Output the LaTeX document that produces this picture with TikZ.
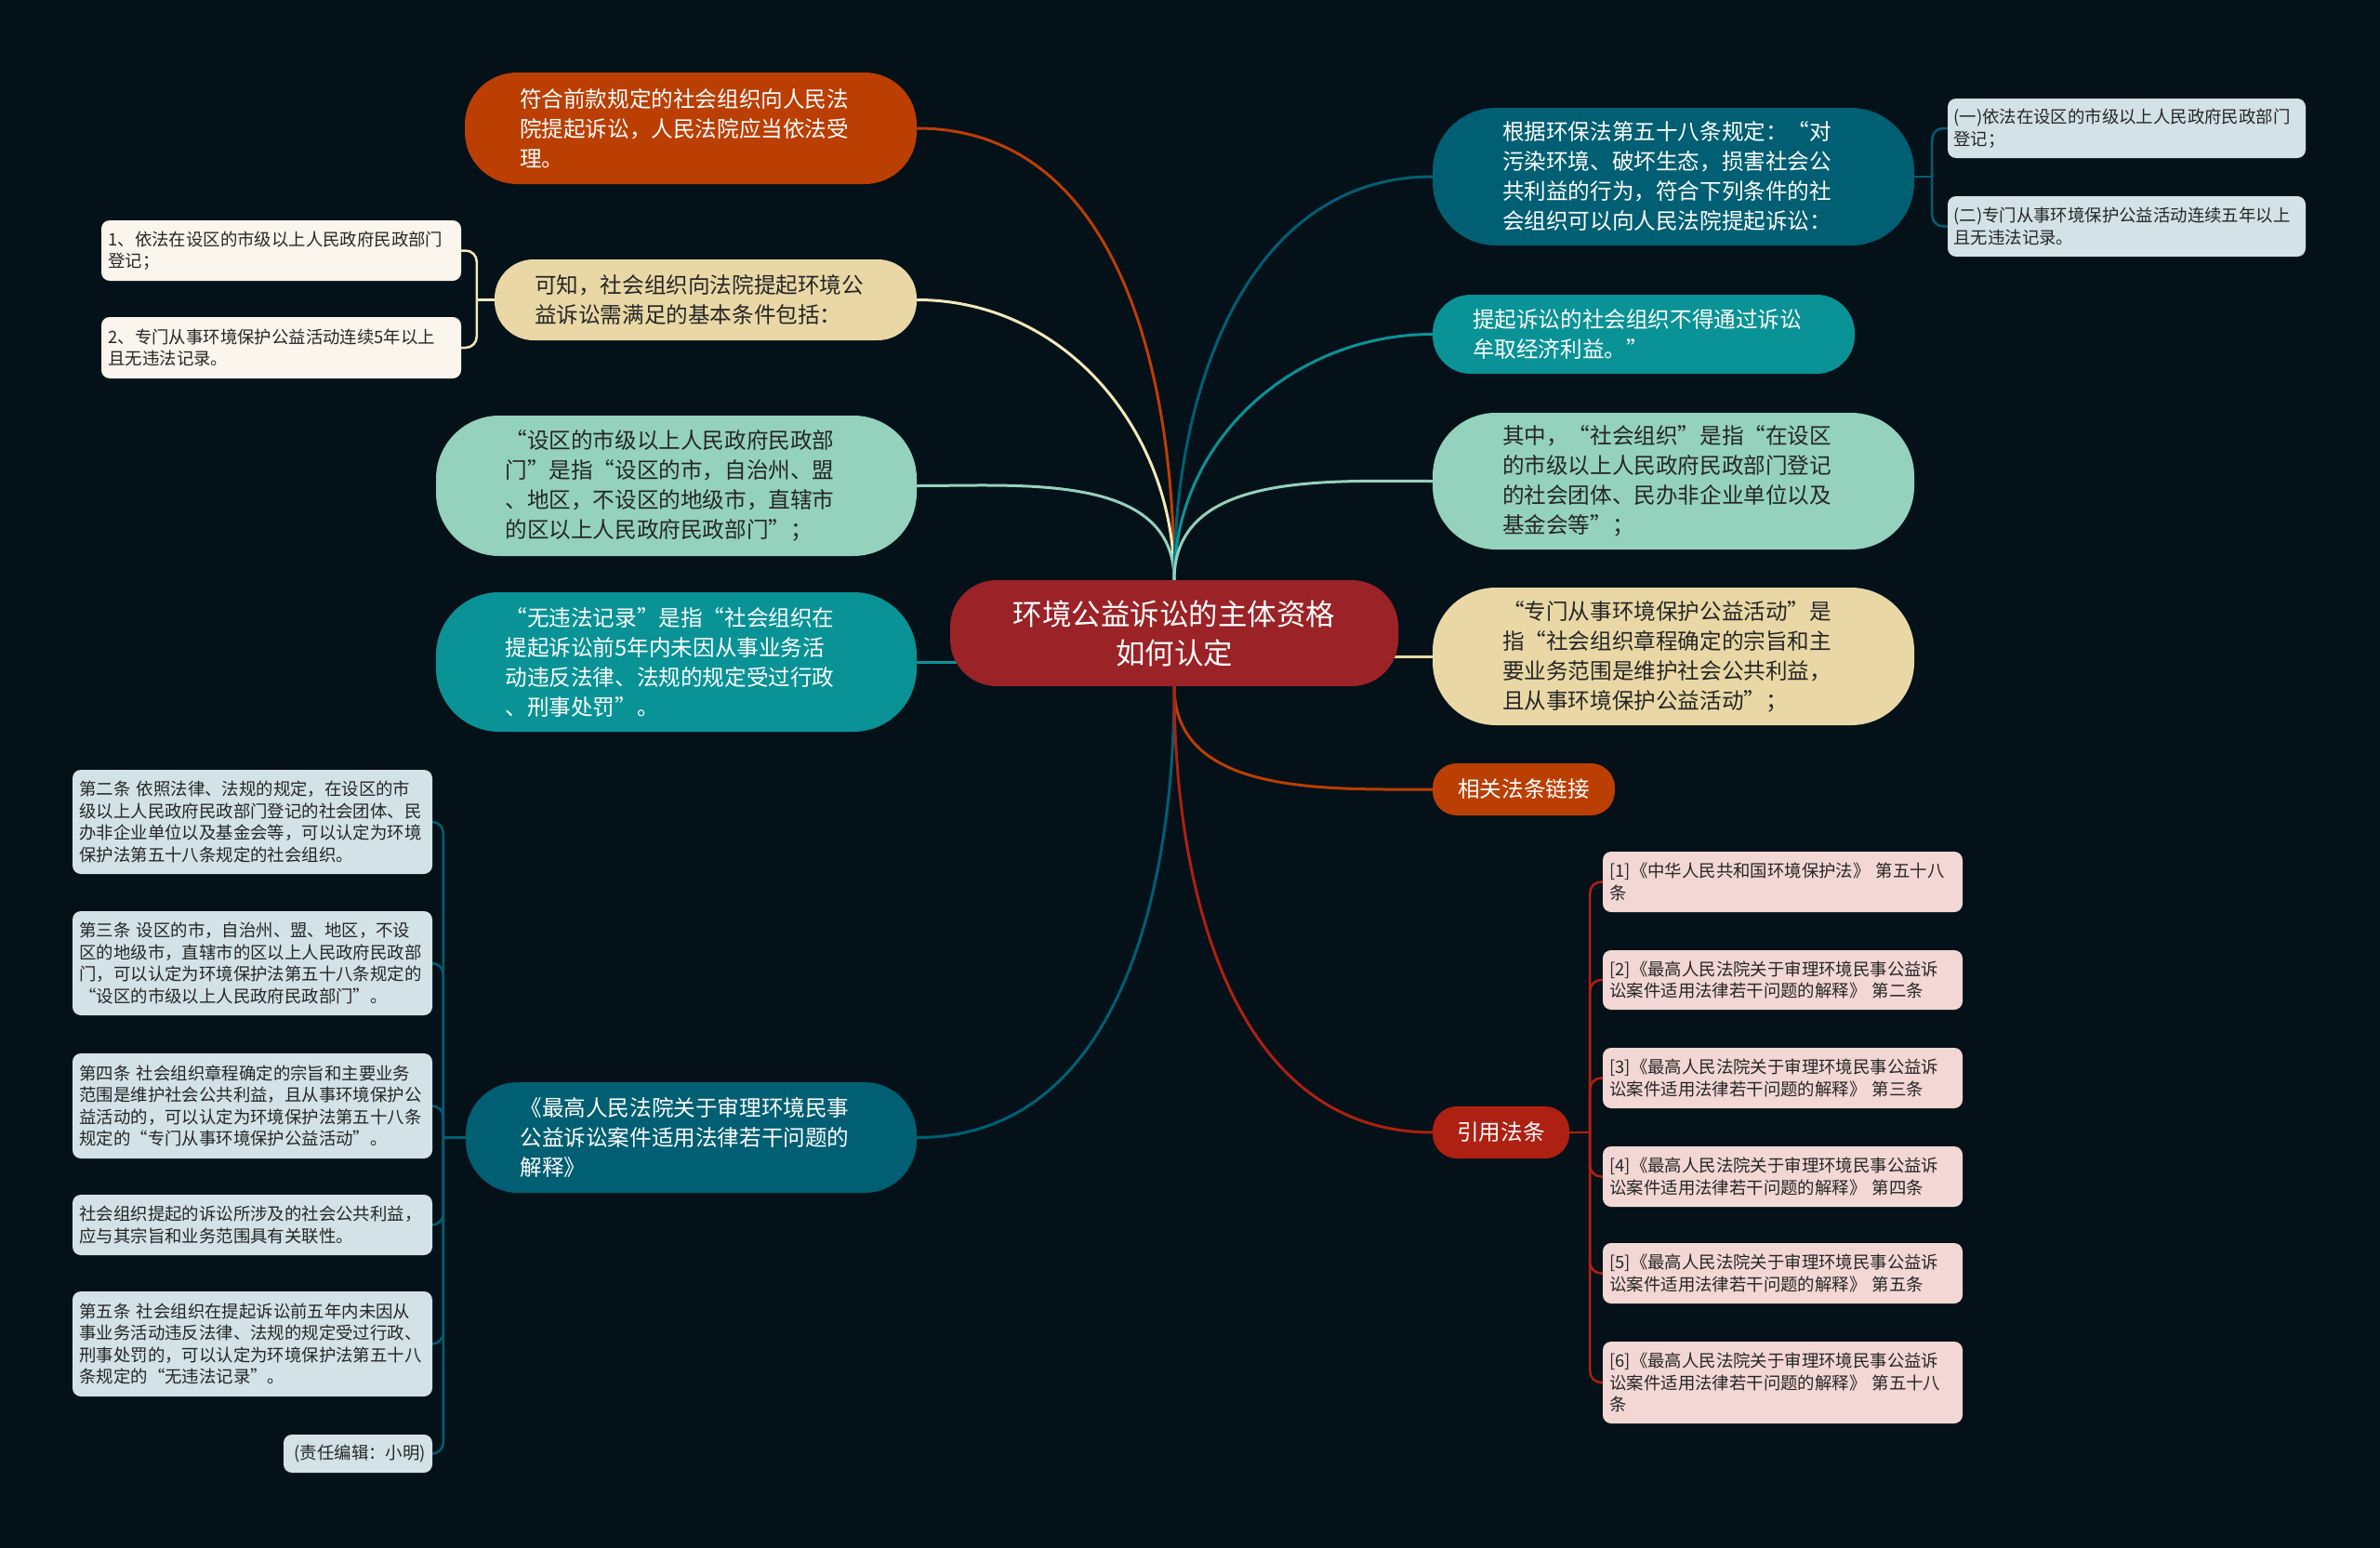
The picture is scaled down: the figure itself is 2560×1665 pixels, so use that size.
\documentclass[tikz,border=0pt]{standalone}
\usepackage{fontspec}
\setmainfont{Noto Sans CJK SC}
\usepackage{tikz}
\usetikzlibrary{backgrounds,calc}
\definecolor{ColBg}   {RGB}{4,17,25}
\definecolor{ColCtr}  {RGB}{155,34,38}
\definecolor{ColOrg}  {RGB}{187,62,3}
\definecolor{ColSand} {RGB}{233,216,166}
\definecolor{ColSandL}{RGB}{245,232,186}
\definecolor{ColMint} {RGB}{148,210,189}
\definecolor{ColTeal} {RGB}{10,147,150}
\definecolor{ColNavy} {RGB}{0,95,115}
\definecolor{ColRed}  {RGB}{174,32,18}
\definecolor{ColInk}  {RGB}{38,38,38}
\definecolor{LeafCrm} {RGB}{250,246,237}
\definecolor{LeafBlu} {RGB}{210,226,231}
\definecolor{LeafPnk} {RGB}{242,215,213}
\tikzset{
  nd_root/.style={
    rectangle, rounded corners=50pt, fill=ColCtr,
    minimum width=482pt, minimum height=114pt,
    align=center, text=white,
    font=\fontsize{31.5}{42}\selectfont},
  nd_big/.style 2 args={
    rectangle, fill=#1, text=#2,
    text width=368pt, inner ysep=4pt,
    align=left, font=\fontsize{23.6}{32}\selectfont},
  nd_tag/.style={
    rectangle, rounded corners=26pt, fill=#1, text=white,
    minimum height=56pt, inner ysep=0pt,
    align=center, font=\fontsize{23.6}{32}\selectfont},
  nd_leaf/.style={
    rectangle, rounded corners=9pt, fill=#1, text=ColInk,
    text width=372pt, inner xsep=7.5pt, inner ysep=4pt,
    align=left, font=\fontsize{18.4}{23.4}\selectfont},
  ln/.style={draw=#1, line width=3pt},
  brk/.style={draw=#1, line width=2.5pt, rounded corners=12pt},
}

\begin{document}
\begin{tikzpicture}[x=1pt,y=-1pt]
\useasboundingbox (0,0) rectangle (2560,1665);

\def\xL{743}\def\xR{1800}\def\xA{271.5}\def\xB{1917.5}

%% root
\node[nd_root] at (1263,681) (C){环境公益诉讼的主体资格\\如何认定};

%% left branches
\node[nd_big={ColOrg}{white}, inner xsep=59pt, minimum height=120pt, rounded corners=56pt]
  at (\xL,138) (L1){符合前款规定的社会组织向人民法\\院提起诉讼，人民法院应当依法受\\理。};
\node[nd_big={ColSand}{ColInk}, inner xsep=43pt, minimum height=87pt, rounded corners=42pt]
  at (759,322.5) (L2){可知，社会组织向法院提起环境公\\益诉讼需满足的基本条件包括：};
\node[nd_big={ColMint}{ColInk}, inner xsep=74.5pt, minimum height=151pt, rounded corners=68pt]
  at (727.5,522.5) (L3){“设区的市级以上人民政府民政部\\门”是指“设区的市，自治州、盟\\、地区，不设区的地级市，直辖市\\的区以上人民政府民政部门”；};
\node[nd_big={ColTeal}{white}, inner xsep=74.5pt, minimum height=150pt, rounded corners=68pt]
  at (727.5,712) (L4){“无违法记录”是指“社会组织在\\提起诉讼前5年内未因从事业务活\\动违反法律、法规的规定受过行政\\、刑事处罚”。};
\node[nd_big={ColNavy}{white}, inner xsep=58.5pt, minimum height=119pt, rounded corners=56pt]
  at (743.5,1223.5) (L5){《最高人民法院关于审理环境民事\\公益诉讼案件适用法律若干问题的\\解释》};

%% right branches
\node[nd_big={ColNavy}{white}, inner xsep=75pt, minimum height=148pt, rounded corners=68pt]
  at (\xR,190) (R1){根据环保法第五十八条规定：“对\\污染环境、破坏生态，损害社会公\\共利益的行为，符合下列条件的社\\会组织可以向人民法院提起诉讼：};
\node[nd_big={ColTeal}{white}, inner xsep=43pt, minimum height=85pt, rounded corners=41pt]
  at (1768,359.5) (R2){提起诉讼的社会组织不得通过诉讼\\牟取经济利益。”};
\node[nd_big={ColMint}{ColInk}, inner xsep=75pt, minimum height=147pt, rounded corners=68pt]
  at (\xR,517.5) (R3){其中，“社会组织”是指“在设区\\的市级以上人民政府民政部门登记\\的社会团体、民办非企业单位以及\\基金会等”；};
\node[nd_big={ColSand}{ColInk}, inner xsep=75pt, minimum height=148pt, rounded corners=68pt]
  at (\xR,706) (R4){“专门从事环境保护公益活动”是\\指“社会组织章程确定的宗旨和主\\要业务范围是维护社会公共利益，\\且从事环境保护公益活动”；};
\node[nd_tag=ColOrg, minimum width=196pt] at (1639,849)    (R5){相关法条链接};
\node[nd_tag=ColRed, minimum width=147pt] at (1614.5,1218) (R6){引用法条};

%% leaves of L2
\node[nd_leaf=LeafCrm, minimum height=65pt] at (302.5,269.5) (LL1){1、依法在设区的市级以上人民政府民政部门\\登记；};
\node[nd_leaf=LeafCrm, minimum height=66pt] at (302.5,374)   (LL2){2、专门从事环境保护公益活动连续5年以上\\且无违法记录。};

%% leaves of R1
\node[nd_leaf=LeafBlu, inner xsep=6.5pt, minimum height=64pt] at (2287.5,138)   (RR1){(一)依法在设区的市级以上人民政府民政部门\\登记；};
\node[nd_leaf=LeafBlu, inner xsep=6.5pt, minimum height=65pt] at (2287.5,243.5) (RR2){(二)专门从事环境保护公益活动连续五年以上\\且无违法记录。};

%% leaves of L5
\node[nd_leaf=LeafBlu, minimum height=112pt] at (\xA,884)    (A1){第二条 依照法律、法规的规定，在设区的市\\级以上人民政府民政部门登记的社会团体、民\\办非企业单位以及基金会等，可以认定为环境\\保护法第五十八条规定的社会组织。};
\node[nd_leaf=LeafBlu, minimum height=112pt] at (\xA,1036)   (A2){第三条 设区的市，自治州、盟、地区，不设\\区的地级市，直辖市的区以上人民政府民政部\\门，可以认定为环境保护法第五十八条规定的\\“设区的市级以上人民政府民政部门”。};
\node[nd_leaf=LeafBlu, minimum height=113pt] at (\xA,1189.5) (A3){第四条 社会组织章程确定的宗旨和主要业务\\范围是维护社会公共利益，且从事环境保护公\\益活动的，可以认定为环境保护法第五十八条\\规定的“专门从事环境保护公益活动”。};
\node[nd_leaf=LeafBlu, minimum height=65pt]  at (\xA,1317.5) (A4){社会组织提起的诉讼所涉及的社会公共利益，\\应与其宗旨和业务范围具有关联性。};
\node[nd_leaf=LeafBlu, minimum height=113pt] at (\xA,1445.5) (A5){第五条 社会组织在提起诉讼前五年内未因从\\事业务活动违反法律、法规的规定受过行政、\\刑事处罚的，可以认定为环境保护法第五十八\\条规定的“无违法记录”。};
\node[nd_leaf=LeafBlu, text width=146pt, inner xsep=7pt, align=right, minimum height=41pt]
  at (385,1563.5) (A6){(责任编辑：小明)};

%% leaves of R6
\node[nd_leaf=LeafPnk, minimum height=65pt] at (\xB,948.5)  (B1){[1]《中华人民共和国环境保护法》 第五十八\\条};
\node[nd_leaf=LeafPnk, minimum height=64pt] at (\xB,1054)   (B2){[2]《最高人民法院关于审理环境民事公益诉\\讼案件适用法律若干问题的解释》 第二条};
\node[nd_leaf=LeafPnk, minimum height=65pt] at (\xB,1159.5) (B3){[3]《最高人民法院关于审理环境民事公益诉\\讼案件适用法律若干问题的解释》 第三条};
\node[nd_leaf=LeafPnk, minimum height=65pt] at (\xB,1265.5) (B4){[4]《最高人民法院关于审理环境民事公益诉\\讼案件适用法律若干问题的解释》 第四条};
\node[nd_leaf=LeafPnk, minimum height=65pt] at (\xB,1369.5) (B5){[5]《最高人民法院关于审理环境民事公益诉\\讼案件适用法律若干问题的解释》 第五条};
\node[nd_leaf=LeafPnk, minimum height=88pt] at (\xB,1487)   (B6){[6]《最高人民法院关于审理环境民事公益诉\\讼案件适用法律若干问题的解释》 第五十八\\条};

\coordinate (CL) at ($(C.west |- L4.east)+(30,0)$);
\coordinate (CR) at ($(C.east |- R4.west)+(-30,0)$);
\coordinate (J2) at ($(L2.west)+(-19,0)$);
\coordinate (J1) at ($(R1.east)+(19,0)$);
\coordinate (J5) at ($(L5.west)+(-24,0)$);
\coordinate (J6) at ($(R6.east)+(22,0)$);

\begin{pgfonlayer}{background}
\fill[ColBg] (0,0) rectangle (2560,1665);

\foreach \n/\c in {L1/ColOrg,L2/ColSandL,L3/ColMint}
  {\draw[ln=\c] (C.north) to[out=90,in=0] (\n.east);}
\foreach \n/\c in {R1/ColNavy,R2/ColTeal,R3/ColMint}
  {\draw[ln=\c] (C.north) to[out=90,in=180] (\n.west);}
\draw[ln=ColNavy] (C.south) to[out=-90,in=0] (L5.east);
\foreach \n/\c in {R5/ColOrg,R6/ColRed}
  {\draw[ln=\c] (C.south) to[out=-90,in=180] (\n.west);}
\draw[ln=ColTeal] (L4.east) -- (CL);
\draw[ln=ColSand] (R4.west) -- (CR);

%% brackets
\draw[brk=ColSandL] (L2.west) -- (J2);
\foreach \n in {LL1,LL2} {\draw[brk=ColSandL] (J2) |- (\n.east);}
\draw[brk=ColNavy] (R1.east) -- (J1);
\foreach \n in {RR1,RR2} {\draw[brk=ColNavy] (J1) |- (\n.west);}
\draw[brk=ColNavy] (L5.west) -- (J5);
\foreach \n in {A1,A2,A3,A4,A5,A6} {\draw[brk=ColNavy] (J5) |- (\n.east);}
\draw[brk=ColRed] (R6.east) -- (J6);
\foreach \n in {B1,B2,B3,B4,B5,B6} {\draw[brk=ColRed] (J6) |- (\n.west);}
\end{pgfonlayer}

\end{tikzpicture}
\end{document}
